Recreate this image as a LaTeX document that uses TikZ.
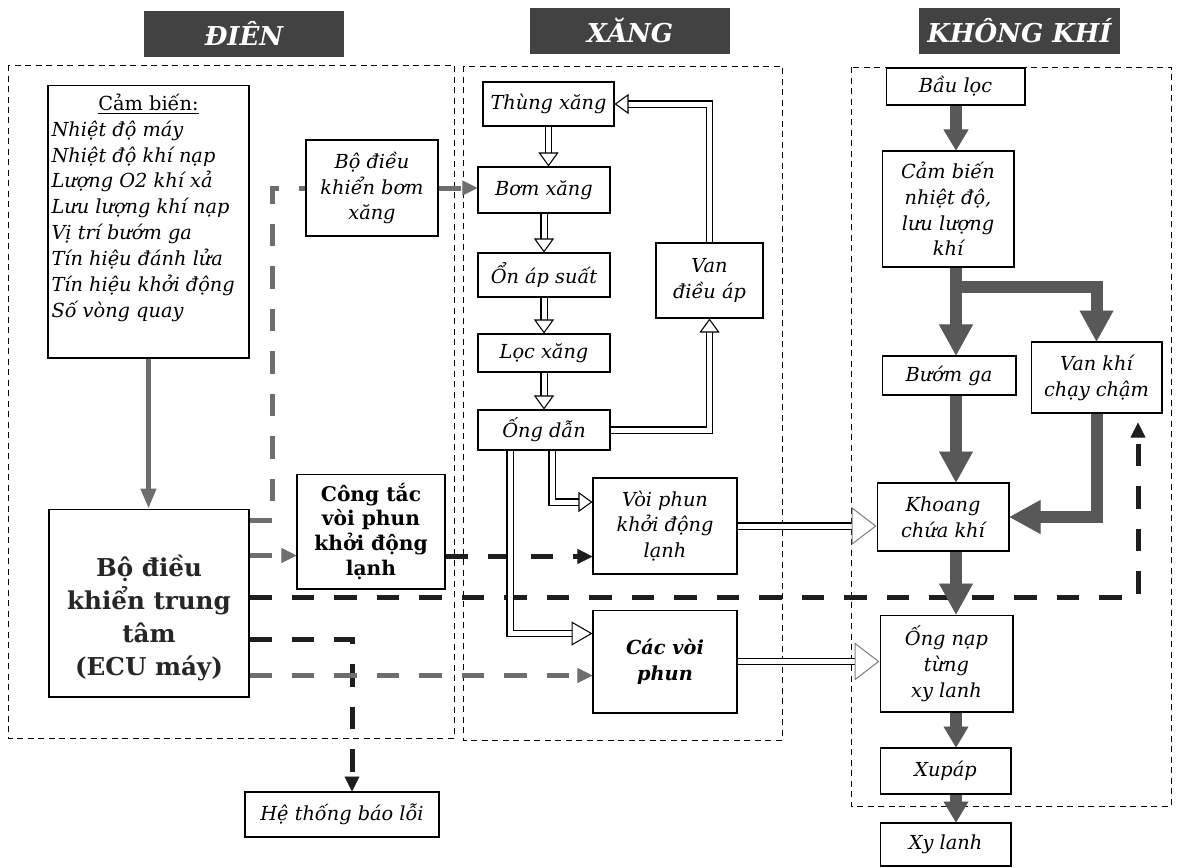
\documentclass[tikz,border=0pt]{standalone}
\usepackage{fontspec}
\setmainfont{DejaVu Serif}
\usetikzlibrary{calc,arrows.meta}
\definecolor{headGray}{RGB}{66,66,66}
\definecolor{airGray}{RGB}{88,88,88}
\definecolor{sigGray}{RGB}{110,110,110}
\definecolor{sigDark}{RGB}{30,30,30}
\newcommand{\ItalFont}{\itshape\fontsize{11}{14.7}\selectfont}

\begin{document}
\begin{tikzpicture}[x=0.02cm,y=-0.02cm,
  tbox/.style={draw,line width=0.6pt,inner sep=1pt,align=center,font=\ItalFont},
  hdBox/.style={fill=headGray,text=white,font=\bfseries\itshape\fontsize{14.8}{18}\selectfont,minimum width=4.02cm,minimum height=0.92cm},
  zone/.style={line width=0.5pt,dash pattern=on 0.12cm off 0.09cm},
  airArrow/.style={draw=airGray,line width=0.24cm,-{Triangle[length=0.62cm,width=0.68cm,line width=0.4pt]}},
  airSmall/.style={draw=airGray,line width=0.24cm,-{Triangle[length=0.42cm,width=0.5cm,line width=0.4pt]}},
  fuelPipe/.style={line width=0.6pt,double=white,double distance=0.1cm,-{Triangle[length=0.28cm,width=0.4cm,fill=white,line width=0.6pt]}},
  fuelBig/.style={fuelPipe,-{Triangle[length=0.42cm,width=0.48cm,fill=white,line width=0.6pt]}},
  fuelOut/.style={fuelPipe,-{Triangle[length=0.5cm,width=0.76cm,color=gray,fill=white,line width=0.6pt]}},
  sigLine/.style={line width=0.1cm,dash pattern=on 0.45cm off 0.4cm,-{Triangle[length=0.3cm,width=0.3cm,line width=0.4pt]}}
]
\useasboundingbox (0,0) rectangle (1179,867);

\node[hdBox] (hdDien) at (244,33.5) {ĐIÊN};
\node[hdBox] (hdXang) at (630,30.5) {XĂNG};
\node[hdBox] (hdKhi) at (1019.5,30.5) {KHÔNG KHÍ};

\draw[zone] (8,65) rectangle (454,738);
\draw[zone] (463,66) rectangle (782,740);
\draw[zone] (851,67) rectangle (1171,806);

\node[draw,line width=0.6pt,inner sep=0pt,minimum width=4.02cm,minimum height=5.46cm] (camBien) at (148.5,221.5) {\parbox[c][5.1cm][t]{3.88cm}{\fontsize{11}{14.7}\selectfont\centering\underline{Cảm biến:}\par\raggedright\itshape Nhiệt độ máy\\Nhiệt độ khí nạp\\Lượng O2 khí xả\\Lưu lượng khí nạp\\Vị trí bướm ga\\Tín hiệu đánh lửa\\Tín hiệu khởi động\\Số vòng quay}};
\node[draw,line width=0.6pt,inner sep=0pt,minimum width=4cm,minimum height=3.76cm,text=black!85] (ecu) at (149,603) {\parbox[c][3.0cm][b]{3.9cm}{\centering\bfseries\fontsize{14}{18.7}\selectfont Bộ điều\\khiển trung\\tâm\\(ECU máy)}};
\node[tbox,minimum width=2.64cm,minimum height=1.92cm] (bomCtrl) at (372,188) {Bộ điều\\khiển bơm\\xăng};
\node[tbox,font=\bfseries\fontsize{11.5}{14.2}\selectfont,minimum width=2.96cm,minimum height=2.3cm] (congTac) at (371,531.5) {Công tắc\\vòi phun\\khởi động\\lạnh};
\node[tbox,minimum width=3.88cm,minimum height=0.9cm] (baoLoi) at (342,814.5) {Hệ thống báo lỗi};

\node[tbox,minimum width=2.62cm,minimum height=0.88cm] (thung) at (548.5,104) {Thùng xăng};
\node[tbox,minimum width=2.64cm,minimum height=0.92cm] (bom) at (544,190) {Bơm xăng};
\node[tbox,minimum width=2.64cm,minimum height=0.88cm] (onAp) at (544,275) {Ổn áp suất};
\node[tbox,minimum width=2.64cm,minimum height=0.76cm] (loc) at (544,353) {Lọc xăng};
\node[tbox,minimum width=2.64cm,minimum height=0.8cm] (ongDan) at (544,430) {Ống dẫn};
\node[tbox,minimum width=2.14cm,minimum height=1.5cm] (vanAp) at (709.5,280.5) {Van\\điều áp};
\node[tbox,minimum width=2.88cm,minimum height=1.92cm] (voiLanh) at (665,526) {Vòi phun\\khởi động\\lạnh};
\node[tbox,font=\bfseries\ItalFont,minimum width=2.88cm,minimum height=2.06cm] (voiPhun) at (665,661.5) {Các vòi\\phun};

\node[tbox,minimum width=2.78cm,minimum height=0.74cm] (bauLoc) at (955.5,86.5) {Bầu lọc};
\node[tbox,minimum width=2.64cm,minimum height=2.32cm] (camKhi) at (948,209) {Cảm biến\\nhiệt độ,\\lưu lượng\\khí};
\node[tbox,minimum width=2.68cm,minimum height=0.78cm] (buomGa) at (949,375.5) {Bướm ga};
\node[tbox,minimum width=2.62cm,minimum height=1.42cm] (vanKhi) at (1096.5,377.5) {Van khí\\chạy chậm};
\node[tbox,minimum width=2.64cm,minimum height=1.36cm] (khoang) at (943,517) {Khoang\\chứa khí};
\node[tbox,minimum width=2.66cm,minimum height=1.94cm] (ongNap) at (946.5,663.5) {Ống nạp\\từng\\xy lanh};
\node[tbox,minimum width=2.62cm,minimum height=0.92cm] (xupap) at (945.5,771) {Xupáp};
\node[tbox,minimum width=2.62cm,minimum height=0.86cm] (xyLanh) at (945.5,844.5) {Xy lanh};

\draw[sigGray,line width=0.09cm,-{Triangle[length=0.4cm,width=0.3cm]}] (camBien.south) -- (camBien.south |- ecu.north);

\draw[sigLine,sigGray,-] (ecu.north east) ++(0,12) -| ($(bomCtrl.west)+(-33,0)$) -- (bomCtrl.west);
\draw[sigLine,sigGray] (bomCtrl.east) -- (bomCtrl.east -| bom.west);
\draw[sigLine,sigGray] (ecu.north east) ++(0,47) coordinate (e2) -- (e2 -| congTac.west);
\draw[sigLine,sigDark] (congTac.east) ++(0,25) coordinate (c1) -- (c1 -| voiLanh.west);
\draw[sigLine,sigDark] (ecu.north east) ++(0,89) coordinate (e3) -| ($(vanKhi.south)+(41.5,9)$);
\draw[sigLine,sigDark] (ecu.north east) ++(0,131) coordinate (e4) -| ($(baoLoi.north)+(10,0)$);
\draw[sigLine,sigGray] (ecu.north east) ++(0,167) coordinate (e5) -- (e5 -| voiPhun.west);

\draw[fuelPipe] (thung.south) -- (thung.south |- bom.north);
\draw[fuelPipe] (bom.south) -- (onAp.north);
\draw[fuelPipe] (onAp.south) -- (loc.north);
\draw[fuelPipe] (loc.south) -- (ongDan.north);
\draw[fuelPipe] (ongDan.east) -| (vanAp.south);
\draw[fuelPipe] (vanAp.north) |- (thung.east);
\draw[fuelPipe] (ongDan.south) ++(8,0) coordinate (p1) |- ($(voiLanh.west)+(0,-24)$);
\draw[fuelBig] (ongDan.south) ++(-34,0) coordinate (p2) |- ($(voiPhun.west)+(0,-28)$);
\draw[fuelOut] (voiLanh.east) -- (voiLanh.east -| khoang.west);
\draw[fuelOut] (voiPhun.east) -- (voiPhun.east -| ongNap.west);

\coordinate (airCol) at (956,0);
\draw[airSmall] (bauLoc.south -| airCol) -- (camKhi.north -| airCol);
\draw[airArrow] (camKhi.south -| airCol) -- (buomGa.north -| airCol);
\draw[airArrow] (camKhi.south -| airCol) -- ++(0,19) -| (vanKhi.north);
\draw[airArrow] (buomGa.south -| airCol) -- (khoang.north -| airCol);
\draw[airArrow] (vanKhi.south) |- (khoang.east);
\draw[airArrow] (khoang.south -| airCol) -- (ongNap.north -| airCol);
\draw[airSmall] (ongNap.south -| airCol) -- (xupap.north -| airCol);
\draw[airSmall] (xupap.south -| airCol) -- (xyLanh.north -| airCol);
\end{tikzpicture}
\end{document}
